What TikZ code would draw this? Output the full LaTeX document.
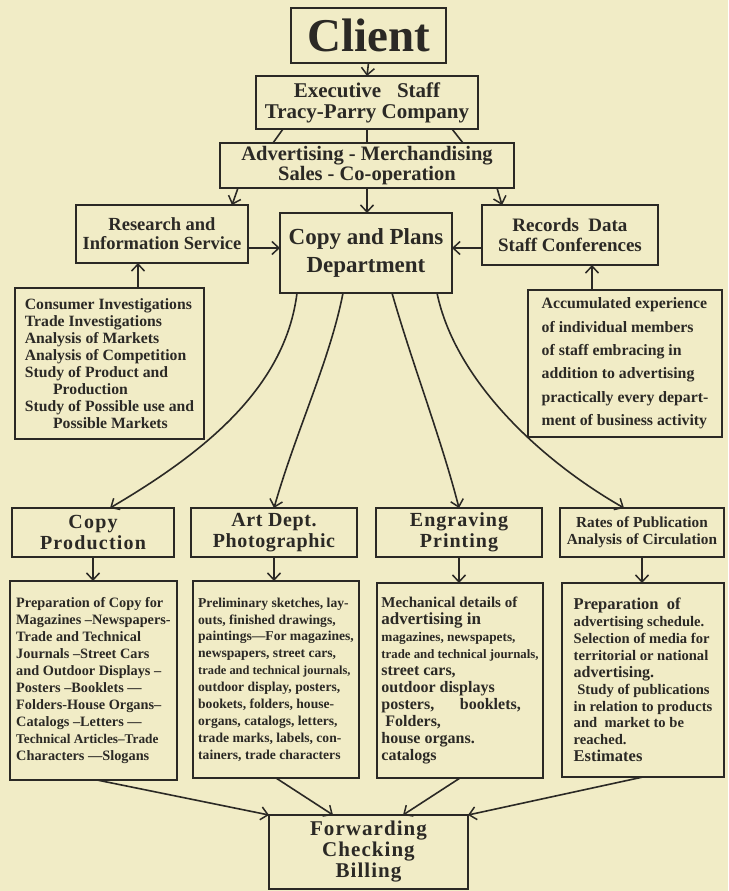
\documentclass[tikz,border=0pt]{standalone}
\usepackage{fontspec}
\setmainfont{Liberation Serif}
\usetikzlibrary{arrows.meta,calc}
\definecolor{paper}{HTML}{F1ECC6}
\definecolor{ink}{HTML}{2B2925}
\newcommand\fsz[2]{\fontsize{#1}{#2}\selectfont\lineskiplimit=-30pt}
\newcommand\lsp[1]{\addfontfeature{LetterSpace=#1}}
\tikzset{
  box/.style={draw=ink, line width=1.6pt, fill=paper, inner sep=0pt, outer sep=0pt,
              text=ink, align=center},
  subbox/.style={box, align=left},
  conn/.style={draw=ink, line width=1.6pt},
  arr/.style={conn, -{Straight Barb[length=7pt,width=13pt,line width=1.5pt]}},
}
\begin{document}
\begin{tikzpicture}[x=1pt,y=-1pt]
\fill[paper] (0,0) rectangle (728,891);
\useasboundingbox (0,0) rectangle (728,891);

% top
\node[box, minimum width=155pt, minimum height=55pt, font=\bfseries\fsz{47}{50}] (client) at (368.5,35.5) {Client};
\node[box, minimum width=222pt, minimum height=53pt, font=\bfseries\fsz{21}{21}] (exec) at (367,102.5)
  {Executive\ \ \ Staff\\Tracy-Parry Company};
\node[box, minimum width=294pt, minimum height=45pt, font=\bfseries\fsz{20.5}{20.5}] (adv) at (367,165.5)
  {Advertising - Merchandising\\Sales - Co-operation};

% middle row
\node[box, minimum width=172pt, minimum height=58pt, font=\bfseries\fsz{18.5}{19}] (research) at (162,234)
  {Research and\\Information Service};
\node[box, minimum width=172pt, minimum height=80pt, font=\bfseries\fsz{23}{28}] (cp) at (366,253)
  {Copy and Plans\\Department};
\node[box, minimum width=176pt, minimum height=60pt, font=\bfseries\fsz{19}{20}] (records) at (570,235)
  {Records\ \ Data\\Staff Conferences};

\node[subbox, minimum width=189pt, minimum height=151pt, font=\bfseries\fsz{15.7}{16.9}] (ressub) at (109.5,363.5)
  {Consumer Investigations\\Trade Investigations\\Analysis of Markets\\Analysis of Competition\\
   Study of Product and\\\hspace*{1.8em}Production\\Study of Possible use and\\\hspace*{1.8em}Possible Markets};
\node[subbox, minimum width=194pt, minimum height=147pt, font=\bfseries\fsz{15.8}{23.4}] (recsub) at (625,363.5)
  {Accumulated experience\\of individual members\\of staff embracing in\\addition to advertising\\
   practically every depart-\\ment of business activity};

% bottom titles
\node[box, minimum width=162pt, minimum height=49pt, font=\bfseries\fsz{20}{20.5}\lsp{6}] (copyprod) at (93,532.5)
  {Copy\\Production};
\node[box, minimum width=166pt, minimum height=49pt, font=\bfseries\fsz{20}{20.5}\lsp{3}] (art) at (274,532.5)
  {Art Dept.\\Photographic};
\node[box, minimum width=166pt, minimum height=49pt, font=\bfseries\fsz{20}{20.5}\lsp{5}] (engr) at (459,532.5)
  {Engraving\\Printing};
\node[box, minimum width=164pt, minimum height=49pt, font=\bfseries\fsz{15.3}{17}] (rates) at (642,532.5)
  {Rates of Publication\\Analysis of Circulation};

% bottom sub boxes
\node[subbox, minimum width=167pt, minimum height=199pt, font=\bfseries\fsz{14.3}{16.9}] (copysub) at (93.5,680.5)
  {Preparation of Copy for\\Magazines --Newspapers-\\Trade and Technical\\Journals --Street Cars\\
   and Outdoor Displays --\\Posters --Booklets ---\\Folders-House Organs--\\Catalogs --Letters ---\\
   {\fsz{13.3}{16.9}Technical Articles--Trade}\\Characters ---Slogans};
\node[subbox, minimum width=166pt, minimum height=197pt, font=\bfseries\fsz{13.6}{16.9}] (artsub) at (276,679.5)
  {Preliminary sketches, lay-\\outs, finished drawings,\\paintings---For magazines,\\newspapers, street cars,\\
   {\fsz{12.4}{16.9}trade and technical journals,}\\outdoor display, posters,\\bookets, folders, house-\\organs, catalogs, letters,\\
   trade marks, labels, con-\\tainers, trade characters};
\node[subbox, minimum width=166pt, minimum height=195pt, font=\bfseries\fsz{16}{16.9}] (engrsub) at (460,680.5)
  {{\fsz{15}{16.9}Mechanical details of}\\{\fsz{17}{16.9}advertising in}\\
   {\fsz{13.3}{16.9}magazines, newspapets,}\\{\fsz{12.8}{16.9}trade and technical journals,}\\
   street cars,\\outdoor displays\\posters,\hspace{1.6em}booklets,\\\ Folders,\\house organs.\\catalogs};
\node[subbox, minimum width=162pt, minimum height=194pt, font=\bfseries\fsz{14.6}{16.9}] (ratessub) at (643,680)
  {{\fsz{16.5}{16.9}Preparation\ \ of}\\advertising schedule.\\Selection of media for\\territorial or national\\
   {\fsz{16}{16.9}advertising.}\\\ Study of publications\\in relation to products\\and\ \ market to be\\
   reached.\\{\fsz{16.5}{16.9}Estimates}};

\node[box, minimum width=199pt, minimum height=74pt, font=\bfseries\fsz{21}{21}\lsp{5}] (fwd) at (368.5,852)
  {Forwarding\\Checking\\Billing};

% connectors top
\draw[arr] (client.south) -- (exec.north);
\draw[conn] ($(exec.south west)+(27,0)$) -- ($(adv.north west)+(53,0)$);
\draw[conn] (exec.south) -- (exec.south |- adv.north);
\draw[conn] ($(exec.south east)+(-26,0)$) -- ($(adv.north east)+(-51,0)$);
\draw[arr] ($(adv.south west)+(18,0)$) -- ($(research.north east)+(-16,0)$);
\draw[arr] (adv.south) -- (adv.south |- cp.north);
\draw[arr] ($(adv.south east)+(-17,0)$) -- ($(records.north west)+(20,0)$);
\coordinate (rl) at ($(research.south east)+(0,-15)$);
\draw[arr] (rl) -- (rl -| cp.west);
\coordinate (rr) at ($(records.south west)+(0,-17)$);
\draw[arr] (rr) -- (rr -| cp.east);
\coordinate (rsn) at ($(ressub.north west)+(123,0)$);
\draw[arr] (rsn) -- (rsn |- research.south);
\coordinate (rcn) at ($(recsub.north west)+(64,0)$);
\draw[arr] (rcn) -- (rcn |- records.south);

% curves from copy and plans
\coordinate (c1) at ($(cp.south west)+(17,0)$);
\coordinate (c2) at ($(cp.south west)+(63,0)$);
\coordinate (c3) at ($(cp.south west)+(112,0)$);
\coordinate (c4) at ($(cp.south west)+(157,0)$);
\coordinate (t1) at ($(copyprod.north)+(17,0)$);
\coordinate (t4) at ($(rates.north)+(-18,0)$);
\draw[arr] (c1) .. controls ($(c1)+(-12,97)$) and ($(t1)+(90,-53)$) .. (t1);
\draw[arr] (c2) .. controls ($(c2)+(-13,67)$) and ($(art.north)+(22,-77)$) .. (art.north);
\draw[arr] (c3) .. controls ($(c3)+(20,70)$) and ($(engr.north)+(-18,-70)$) .. (engr.north);
\draw[arr] (c4) .. controls ($(c4)+(18,87)$) and ($(t4)+(-84,-48)$) .. (t4);

% title to sub
\draw[arr] (copyprod.south) -- (copyprod.south |- copysub.north);
\draw[arr] (art.south) -- (art.south |- artsub.north);
\draw[arr] (engr.south) -- (engr.south |- engrsub.north);
\draw[arr] (rates.south) -- (rates.south |- ratessub.north);

% to forwarding
\draw[arr] ($(copysub.south west)+(87,0)$) -- (fwd.north west);
\draw[arr] (artsub.south) -- ($(fwd.north west)+(64,0)$);
\draw[arr] (engrsub.south) -- ($(fwd.north east)+(-65,0)$);
\draw[arr] (ratessub.south) -- (fwd.north east);
\end{tikzpicture}
\end{document}
